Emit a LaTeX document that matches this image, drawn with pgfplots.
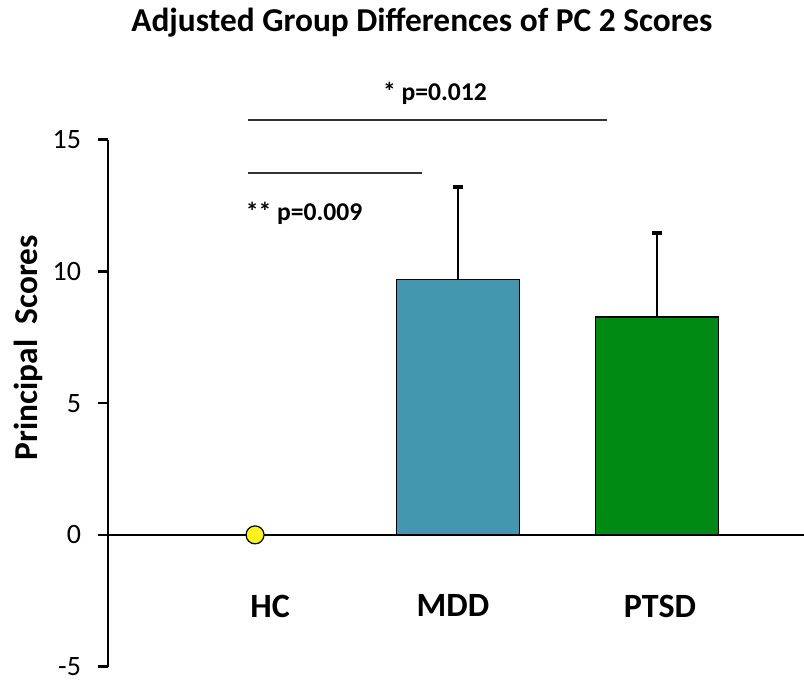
\documentclass[border=0pt]{standalone}
\usepackage{pgfplots}
\pgfplotsset{compat=1.18}
\usepackage{fontspec}
\setmainfont{Carlito}
\definecolor{mddc}{HTML}{4397AE}
\definecolor{ptsdc}{HTML}{008A14}
\definecolor{hcc}{HTML}{FFF21E}
\begin{document}
\begin{tikzpicture}
\begin{axis}[
  scale only axis,
  width=348pt, height=263.5pt,
  xmin=-1.759, xmax=1.739,
  ymin=-5, ymax=15,
  axis x line*=middle,
  axis y line*=left,
  ytick={-5,0,5,10,15},
  xtick={-1,0,1},
  xticklabels={\hspace*{11pt}HC,MDD\hspace*{5pt},\hspace*{3pt}PTSD},
  x tick label style={font=\fontsize{17}{19}\selectfont\bfseries, yshift=-21.5pt, text depth=0pt},
  y tick label style={font=\fontsize{14}{16}\selectfont, xshift=-5pt},
  /pgf/number format/assume math mode=true,
  major x tick style={draw=none},
  tick align=outside,
  major tick length=5pt,
  axis line style={line width=1.3pt},
  every tick/.style={line width=1.3pt, black},
  ylabel={\bfseries Principal\ \ Scores},
  ylabel style={font=\fontsize{16.7}{18}\selectfont, at={(axis description cs:-0.115,0.605)}, anchor=center},
  clip=false,
  title={\bfseries Adjusted Group Differences of PC 2 Scores},
  title style={font=\fontsize{16.7}{19}\selectfont, at={(axis description cs:0.451,1.0)}, anchor=center, yshift=52.5pt},
]
\addplot[ybar, bar width=0.618, fill=mddc, draw=black, line width=0.6pt,
  error bars/.cd, y dir=plus, y explicit, error bar style={line width=1.3pt, black}, error mark options={rotate=90, mark size=2.5pt, line width=1.6pt}]
  coordinates {(0,9.68) +- (0,3.52)};
\addplot[ybar, bar width=0.618, fill=ptsdc, draw=black, line width=0.6pt,
  error bars/.cd, y dir=plus, y explicit, error bar style={line width=1.3pt, black}, error mark options={rotate=90, mark size=2.5pt, line width=1.6pt}]
  coordinates {(1,8.27) +- (0,3.19)};
\draw[line width=1.3pt] (axis cs:-1.759,0) -- (axis cs:1.739,0);
\addplot[only marks, mark=*, mark size=4.5pt, mark options={fill=hcc, draw=black, line width=0.6pt}]
  coordinates {(-1.02,0)};
\draw[line width=0.9pt, black!80] (axis cs:-1.055,15.75) -- (axis cs:0.749,15.75);
\draw[line width=0.9pt, black!80] (axis cs:-1.055,13.74) -- (axis cs:-0.181,13.74);
\node[font=\fontsize{12.8}{14}\selectfont\bfseries] at (axis cs:-0.116,16.77) {* p=0.012};
\node[font=\fontsize{12.8}{14}\selectfont\bfseries] at (axis cs:-0.774,12.22) {** p=0.009};
\coordinate (tl) at (axis cs:-2.302,20.30);
\coordinate (br) at (axis cs:1.739,-5.617);
\end{axis}
\pgfresetboundingbox
\path[use as bounding box] (tl) rectangle (br);
\end{tikzpicture}
\end{document}
